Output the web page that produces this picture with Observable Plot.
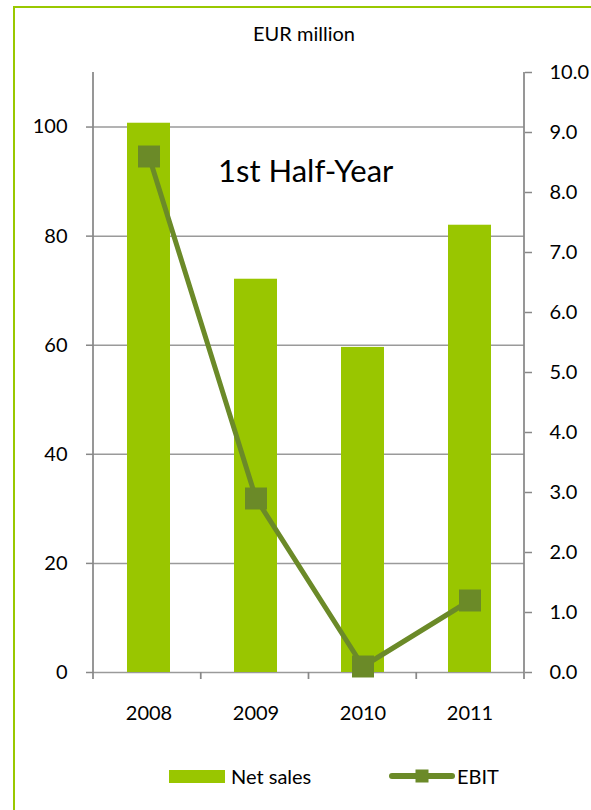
<!DOCTYPE html>
<html>
<head>
<meta charset="utf-8">
<script src="https://cdn.jsdelivr.net/npm/d3@7"></script>
<script src="https://cdn.jsdelivr.net/npm/@observablehq/plot@0.6"></script>
<style>
  html, body { margin: 0; padding: 0; background: #fff; }
  #page { position: relative; width: 591px; height: 810px; overflow: hidden; font-family: Lato, "Open Sans", sans-serif; color: #000; }
  #frame { position: absolute; left: 13px; top: 6px; width: 700px; height: 900px;
           border-top: 2px solid #99c800; border-left: 2px solid #99c800; box-sizing: border-box; }
  #unit { position: absolute; left: 0; width: 608px; top: 21px; text-align: center; font-size: 20px; line-height: 24px; }
  #chart { position: absolute; left: 0; top: 0; }
  #note { position: absolute; left: 218px; top: 150px; font-size: 31px; line-height: 40px; white-space: nowrap; }
  .item { position: absolute; top: 763px; height: 26px; display: flex; align-items: center; font-size: 20px; white-space: nowrap; }
  .item svg { display: block; margin-right: 6px; }
</style>
</head>
<body>
<div id="page">
  <div id="frame"></div>
  <div id="chart"></div>
  <div id="unit">EUR million</div>
  <div id="note">1st Half-Year</div>
  <div class="item" style="left:169px">
    <svg width="56" height="13"><rect width="56" height="13" fill="#99c600"></rect></svg>
    <span>Net sales</span>
  </div>
  <div class="item" style="left:389px">
    <svg width="66" height="14"><line x1="3" y1="7" x2="63" y2="7" stroke="#6b8a28" stroke-width="6" stroke-linecap="round"></line><rect x="26.5" y="0.5" width="13" height="13" fill="#6b8a28"></rect></svg>
    <span style="margin-left:-4px">EBIT</span>
  </div>
</div>
<script>
// Half-year figures, EUR million
const years = ["2008", "2009", "2010", "2011"];
const netSales = [100.7, 72.1, 59.6, 82.0];
const ebit = [8.6, 2.9, 0.1, 1.2];

// Axis ticks: net sales on the left, EBIT on the right
const salesTicks = [0, 20, 40, 60, 80, 100];
const salesMax = 110;
const ebitTicks = [0, 1, 2, 3, 4, 5, 6, 7, 8, 9, 10];
const ebitMax = 10;

const ratio = salesMax / ebitMax; // EBIT value -> shared y scale
const rows = years.map((year, i) => ({year, sales: netSales[i], ebit: ebit[i]}));

const barColor = "#99c600";
const lineColor = "#6b8a28";
const gridColor = "#9a9a9a";
const axisColor = "#888888";

const chart = Plot.plot({
  width: 591,
  height: 745,
  marginLeft: 93,
  marginRight: 67,
  marginTop: 72,
  marginBottom: 73,
  style: {fontFamily: "Lato, 'Open Sans', sans-serif", fontSize: "20px", color: "#000", background: "transparent"},
  x: {type: "band", domain: years, paddingInner: 0.6, paddingOuter: 0.3, axis: null, label: null},
  y: {domain: [0, salesMax], axis: null, label: null},
  marks: [
    Plot.ruleY(salesTicks, {stroke: gridColor, strokeWidth: 1.5}),
    Plot.barY(rows, {x: "year", y: "sales", fill: barColor}),
    Plot.axisY(salesTicks, {anchor: "left", label: null, tickSize: 7, tickPadding: 19, stroke: axisColor, strokeWidth: 1.5, fill: "#000", tickFormat: d => String(d)}),
    Plot.axisY(ebitTicks.map(v => v * ratio), {anchor: "right", label: null, tickSize: 7, tickPadding: 18, stroke: axisColor, strokeWidth: 1.5, fill: "#000", tickFormat: d => (d / ratio).toFixed(1)}),
    Plot.axisX(years, {anchor: "bottom", label: null, tickSize: 0, tickPadding: 33, fill: "#000"}),
    Plot.line(rows, {x: "year", y: d => d.ebit * ratio, stroke: lineColor, strokeWidth: 5}),
    Plot.dot(rows, {x: "year", y: d => d.ebit * ratio, symbol: "square", r: 12.4, fill: lineColor, stroke: "none"})
  ]
});

// Axis lines and category-boundary ticks, placed from the chart's own scales
const sx = chart.scale("x");
const sy = chart.scale("y");
const [xLeft, xRight] = sx.range;
const [yBottom, yTop] = sy.range;
const edges = d3.range(years.length + 1).map(i => xLeft + i * (xRight - xLeft) / years.length);
const svg = d3.select(chart);
const g = svg.append("g").attr("stroke", axisColor).attr("stroke-width", 1.75);
g.append("line").attr("x1", xLeft).attr("x2", xLeft).attr("y1", yTop).attr("y2", yBottom);
g.append("line").attr("x1", xRight).attr("x2", xRight).attr("y1", yTop).attr("y2", yBottom);
g.selectAll(".edge").data(edges).join("line")
  .attr("x1", d => d).attr("x2", d => d).attr("y1", yBottom).attr("y2", yBottom + 7);
// keep the EBIT series above the axis lines
svg.selectAll("g[aria-label='line'], g[aria-label='dot']").raise();

document.getElementById("chart").appendChild(chart);
</script>
</body>
</html>
